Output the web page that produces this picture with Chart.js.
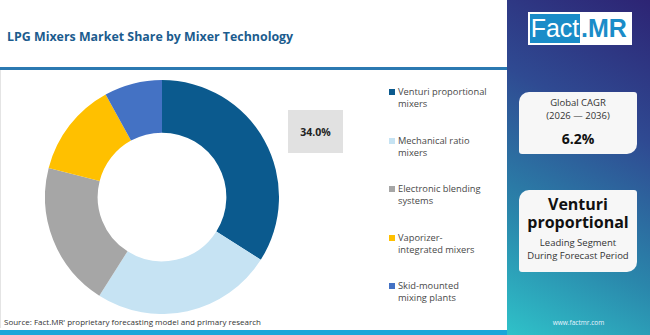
<!DOCTYPE html>
<html><head><meta charset="utf-8">
<script src="https://cdn.jsdelivr.net/npm/chart.js@4"></script>
<style>
html,body{margin:0;padding:0;width:650px;height:335px;overflow:hidden;background:#fff;font-family:"Open Sans",Poppins,sans-serif;}
#wrap{position:absolute;left:0;top:0;width:650px;height:335px;}
#title{position:absolute;left:7px;top:28px;font-size:12.4px;font-weight:700;color:#1c5c8e;white-space:nowrap;}
#hline{position:absolute;left:0;top:67px;width:507px;height:3px;background:#2b79b1;}
#lborder{position:absolute;left:0;top:70px;width:1px;height:258px;background:#e4e4e4;}
#chartbox{position:absolute;left:45px;top:80px;width:234px;height:234px;}
#pct{position:absolute;left:288px;top:110px;width:55px;height:43px;background:#e1e1e1;font-size:10.5px;font-weight:700;color:#222;display:flex;align-items:center;justify-content:center;}
#legend{position:absolute;left:389px;top:86px;width:118px;}
.li{position:absolute;left:0;width:118px;font-size:9.3px;line-height:12.3px;color:#484848;}
.sw{position:absolute;left:0;top:3px;width:6px;height:6px;}
.lt{position:absolute;left:9px;top:0;width:112px;}
#source{position:absolute;left:4px;top:316px;font-size:8px;color:#333;white-space:nowrap;}
#bbar{position:absolute;left:0;top:330px;width:507px;height:5px;background:#1ba6d9;}
#panel{position:absolute;left:507px;top:0;width:143px;height:335px;background:linear-gradient(208deg,#2d2474 0%,#2f4a92 35%,#2a86ab 70%,#2fc2c9 100%);}
#logo{position:absolute;left:21px;top:12px;width:104px;height:33px;background:#fff;}
#logoA{position:absolute;left:2px;top:2px;width:50px;height:29px;background:#1a8cc8;color:#fff;font-family:"Liberation Sans",Arial,sans-serif;font-size:25px;line-height:29px;text-align:center;}
#logoB{position:absolute;left:53px;top:2px;width:50px;height:29px;color:#1a8cc8;font-family:"Liberation Sans",Arial,sans-serif;font-size:25px;font-weight:700;line-height:29px;text-align:left;}
.card{position:absolute;left:12px;width:118px;background:#f7f7f7;border-radius:10px 3px 10px 3px;text-align:center;color:#222;}
#c1{top:92px;height:62px;}
#c2{top:190px;height:82px;}
#url{position:absolute;left:0;width:143px;top:318px;text-align:center;font-size:6.5px;color:#e8f4ff;}
</style></head>
<body><div id="wrap">
<div id="title">LPG Mixers Market Share by Mixer Technology</div>
<div id="hline"></div>
<div id="lborder"></div>
<div id="chartbox"><canvas id="c"></canvas></div>
<div id="pct"></div>
<div id="legend"></div>
<div id="source">Source: Fact.MR' proprietary forecasting model and primary research</div>
<div id="bbar"></div>
<div id="panel">
  <div id="logo"><div id="logoA">Fact</div><div id="logoB">.MR</div></div>
  <div class="card" id="c1">
    <div style="position:absolute;left:0;right:0;top:5px;font-size:9.5px;line-height:12.5px;color:#333;">Global CAGR<br>(2026 — 2036)</div>
    <div style="position:absolute;left:0;right:0;top:37px;font-size:14px;font-weight:700;color:#111;" id="cagr"></div>
  </div>
  <div class="card" id="c2">
    <div style="position:absolute;left:0;right:0;top:5px;font-size:16px;line-height:18px;font-weight:700;color:#111;">Venturi<br>proportional</div>
    <div style="position:absolute;left:0;right:0;top:47px;font-size:9.5px;line-height:12.5px;color:#333;">Leading Segment<br>During Forecast Period</div>
  </div>
  <div id="url">www.factmr.com</div>
</div>
</div>
<script>
const categories = ["Venturi proportional mixers","Mechanical ratio mixers","Electronic blending systems","Vaporizer-integrated mixers","Skid-mounted mixing plants"];
const legendLines = [["Venturi proportional","mixers"],["Mechanical ratio","mixers"],["Electronic blending","systems"],["Vaporizer-","integrated mixers"],["Skid-mounted","mixing plants"]];
const shares = [34, 25, 20, 13, 8];
const colors = ["#0b5a8e","#c6e3f3","#a6a6a6","#ffc000","#4472c4"];
const cagrValue = 6.2;

document.getElementById('pct').textContent = shares[0].toFixed(1) + '%';
document.getElementById('cagr').textContent = cagrValue.toFixed(1) + '%';
const lg = document.getElementById('legend');
legendLines.forEach((l,i)=>{
  const d=document.createElement('div');d.className='li';d.style.top=(i*48.5)+'px';
  d.innerHTML='<div class="sw" style="background:'+colors[i]+'"></div><div class="lt">'+l.join('<br>')+'</div>';
  lg.appendChild(d);
});
new Chart(document.getElementById('c'),{
  type:'doughnut',
  data:{labels:categories,datasets:[{data:shares,backgroundColor:colors,borderWidth:0,hoverOffset:0}]},
  options:{responsive:true,maintainAspectRatio:false,animation:false,cutout:'55%',
    layout:{padding:0},
    plugins:{legend:{display:false},tooltip:{enabled:false}}}
});
</script>
</body></html>
